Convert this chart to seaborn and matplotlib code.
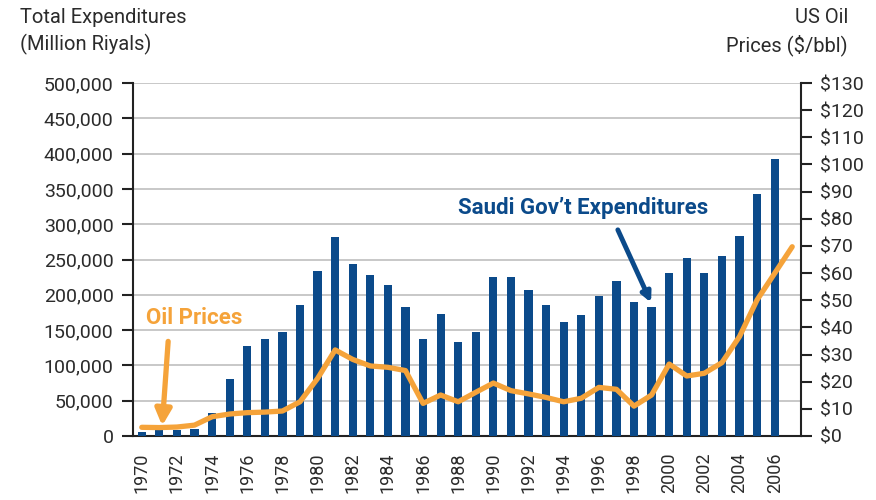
import matplotlib
matplotlib.use("Agg")
import matplotlib.pyplot as plt
from matplotlib import font_manager
import seaborn as sns
import numpy as np
import pandas as pd

# data
years = list(range(1970, 2007))
expenditures = [5500, 8500, 8500, 10000, 32000, 80300, 127500, 137000, 148000, 186000,
                234000, 282000, 243600, 228500, 213900, 183200, 137000, 172300, 133100, 148000,
                225700, 225700, 207300, 185600, 161900, 171400, 198300, 219500, 189300, 182700,
                231300, 251700, 231300, 255000, 283700, 342800, 392300]
oil_years = list(range(1970, 2008))
oil_prices = [3.2, 3.1, 3.3, 4.0, 7.1, 8.1, 8.6, 8.8, 9.2, 12.6,
              21.2, 31.7, 28.2, 25.8, 25.3, 24.1, 12.0, 15.1, 12.6, 16.1,
              19.5, 16.7, 15.5, 14.2, 12.6, 13.9, 17.9, 17.2, 11.0, 15.1,
              26.5, 22.1, 23.1, 27.0, 36.6, 50.1, 59.9, 69.7]
left_ticks = list(range(0, 500001, 50000))
right_ticks = list(range(0, 131, 10))
label_years = list(range(1970, 2007, 2))

navy = "#0b4a8a"
orange = "#f5a33a"
txt = "#2b2b2b"

names = {f.name for f in font_manager.fontManager.ttflist}
fam = "Liberation Sans Narrow" if "Liberation Sans Narrow" in names else "Roboto"

sns.set_style("white")
plt.rcParams["font.family"] = [fam, "DejaVu Sans"]

exp_df = pd.DataFrame({"year": years, "exp": expenditures})
oil_df = pd.DataFrame({"year": oil_years, "price": oil_prices})

fig = plt.figure(figsize=(8.76, 5), dpi=100)
ax = fig.add_axes([133 / 876, 1 - 436 / 500, (801 - 133) / 876, (436 - 83) / 500])

sns.barplot(data=exp_df, x="year", y="exp", native_scale=True, color=navy,
            saturation=1, width=0.47, ax=ax, zorder=3, linewidth=0)
ax.set_xlim(1969.5, 2007.5)
ax.set_ylim(0, 500000)
ax.set_yticks(left_ticks)
ax.set_yticklabels([f"{v:,}" for v in left_ticks])
ax.yaxis.grid(True, color="#c8c8c8", lw=1.4, zorder=0)
ax.set_axisbelow(True)
ax.set_xticks(label_years)
ax.set_xticklabels([str(y) for y in label_years], rotation=90)
ax.set_xticks(np.arange(1969.5, 2007, 5), minor=True)
ax.tick_params(axis="x", which="major", length=0, pad=12, labelsize=13, colors=txt)
ax.tick_params(axis="x", which="minor", length=8, width=1.5, color="#222222")
ax.tick_params(axis="y", length=8, width=1.5, color="#222222", labelsize=14,
               labelcolor=txt, pad=6)
ax.set_xlabel("")
ax.set_ylabel("")
for s in ["top", "right"]:
    ax.spines[s].set_visible(False)
for s in ["left", "bottom"]:
    ax.spines[s].set_color("#222222")
    ax.spines[s].set_linewidth(1.5)

ax2 = ax.twinx()
sns.lineplot(data=oil_df, x="year", y="price", color=orange, lw=3.8, ax=ax2,
             solid_capstyle="round", solid_joinstyle="round")
ax2.set_ylim(0, 130)
ax2.set_yticks(right_ticks)
ax2.set_yticklabels([f"${v}" for v in right_ticks])
ax2.tick_params(axis="y", length=8, width=1.5, color="#222222", labelsize=14,
                labelcolor=txt, pad=6)
ax2.set_ylabel("")
ax2.set_xlabel("")
for s in ["top", "left", "bottom"]:
    ax2.spines[s].set_visible(False)
ax2.spines["right"].set_color("#222222")
ax2.spines["right"].set_linewidth(1.5)
ax2.set_xlim(1969.5, 2007.5)

# annotations
ax.annotate("Oil Prices", xy=(1973.0, 167000), fontsize=16, fontweight="bold",
            color=orange, ha="center", va="center", zorder=6)
ax.annotate("", xy=(1971.16, 14500), xytext=(1971.5, 134000),
            arrowprops=dict(arrowstyle="-|>", lw=3.8, color=orange, mutation_scale=24,
                            shrinkA=0, shrinkB=0), zorder=6)
ax.annotate("Saudi Gov\u2019t Expenditures", xy=(1995.13, 322900), fontsize=16,
            fontweight="bold", color=navy, ha="center", va="center", zorder=6)
ax.annotate("", xy=(1998.97, 189000), xytext=(1997.08, 292000),
            arrowprops=dict(arrowstyle="-|>", lw=3.5, color=navy, mutation_scale=14,
                            shrinkA=0, shrinkB=0), zorder=6)

fig.text(20 / 876, 1 - 8 / 500, "Total Expenditures\n(Million Riyals)", fontsize=14.5,
         color=txt, ha="left", va="top", linespacing=1.45)
fig.text(848 / 876, 1 - 8 / 500, "US Oil\nPrices ($/bbl)", fontsize=14.5,
         color=txt, ha="right", va="top", multialignment="right", linespacing=1.45)

fig.savefig("out.png", dpi=100)
